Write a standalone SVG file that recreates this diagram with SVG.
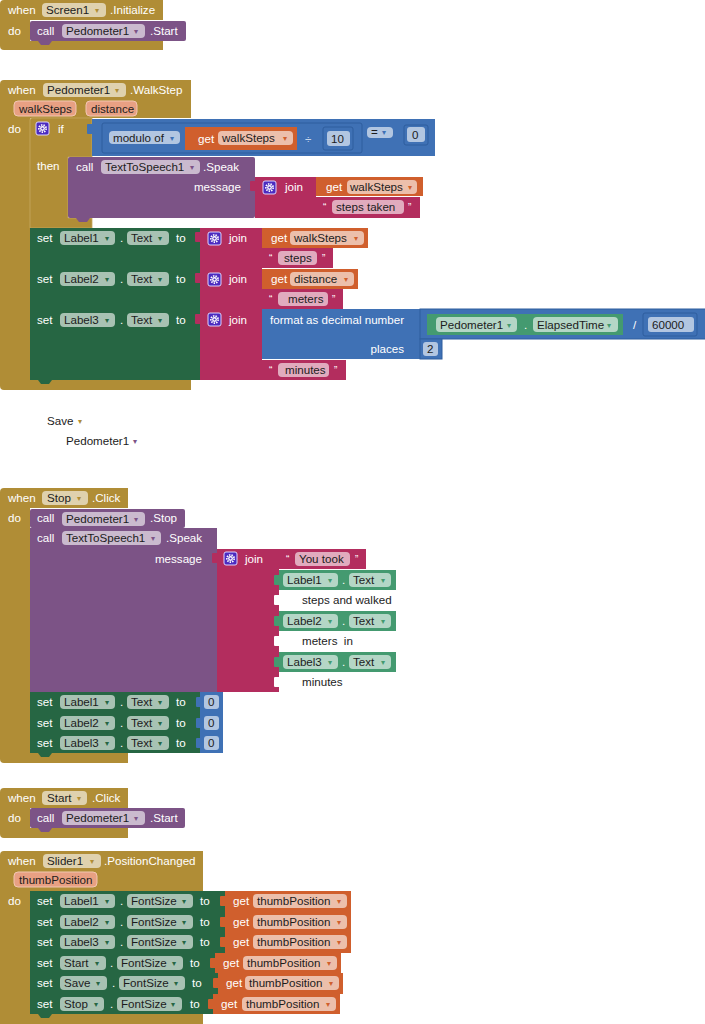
<svg xmlns="http://www.w3.org/2000/svg" xmlns:xlink="http://www.w3.org/1999/xlink" width="705" height="1024" viewBox="0 0 705 1024">
<style>
text{font-family:"Liberation Sans",Arial,sans-serif;font-size:11.6px}
.ev{fill:#B08D36}
.pr{fill:#7C5386}
.st{fill:#266643}
.gt{fill:#449A70}
.vr{fill:#D05F2D}
.tx{fill:#B32D5E}
.mt{fill:#3F71B5}
.ob{stroke:#2F5E9E;stroke-width:1}
.edge{stroke:#C7A860;stroke-width:.8}
.w{fill:#fff}
.d{fill:#1c1c1c}
.f{fill:#fff;fill-opacity:.6}
.a{font-family:"DejaVu Sans",sans-serif;font-size:8px}
.ag{fill:#B08D36}.ap{fill:#7C5386}.as{fill:#266643}.agt{fill:#449A70}.av{fill:#D05F2D}.am{fill:#3F71B5}
.q{fill:#fff;font-size:10px}
.prm{fill:#E8A083;stroke:#F2C6B2;stroke-width:1}
.tab{fill:#fff}
</style>
<defs>
<g id="gear">
<rect x="0" y="0" width="13" height="13" rx="2" fill="#4B2BC0" stroke="#DCD3FF" stroke-width="1"/>
<circle cx="6.5" cy="6.5" r="3.6" fill="none" stroke="#fff" stroke-width="1.8" stroke-dasharray="1.4 1.1"/>
<circle cx="6.5" cy="6.5" r="2.4" fill="#fff"/>
<circle cx="6.5" cy="6.5" r="1.1" fill="#4B2BC0"/>
</g>
<path id="bump" d="M8,0 H22 L19,4 H11 Z"/>
</defs>
<rect x="0" y="0" width="705" height="1024" fill="#fff"/>
<g id="connectors"/>

<!-- Screen1.Initialize -->
<g id="screen1-initialize">
<path class="ev" d="M0,4 Q0,0 4,0 H163 V20 H30 V41 H163 V50 H4 Q0,50 0,46 Z"/>
<text class="w" x="8" y="14">when</text>
<rect class="f" x="42" y="3" width="64" height="14" rx="4"/>
<text class="d" x="46" y="14">Screen1</text>
<text class="a ag" x="95" y="13">▾</text>
<text class="w" x="110" y="14">.Initialize</text>
<text class="w" x="8" y="35">do</text>
<g id="call-pedometer-start-1">
<rect class="pr" x="30" y="21" width="156" height="20" rx="2"/>
<use xlink:href="#bump" class="pr" x="30" y="41"/>
<text class="w" x="37" y="35">call</text>
<rect class="f" x="62" y="24" width="83" height="14" rx="4"/>
<text class="d" x="66" y="35">Pedometer1</text>
<text class="a ap" x="134" y="34">▾</text>
<text class="w" x="150" y="35">.Start</text>
</g>
</g>

<!-- Pedometer1.WalkStep -->
<g id="pedometer-walkstep">
<path class="ev" d="M0,84 Q0,80 4,80 H191 V118 H30 V380 H191 V390 H4 Q0,390 0,386 Z"/>
<text class="w" x="8" y="94">when</text>
<rect class="f" x="43" y="83" width="83" height="14" rx="4"/>
<text class="d" x="47" y="94">Pedometer1</text>
<text class="a ag" x="115" y="93">▾</text>
<text class="w" x="130" y="94">.WalkStep</text>
<rect class="prm" x="14" y="101" width="62" height="15" rx="4"/>
<text class="d" x="19" y="113">walkSteps</text>
<rect class="prm" x="86" y="101" width="51" height="15" rx="4"/>
<text class="d" x="91" y="113">distance</text>
<text class="w" x="8" y="133">do</text>

<g id="if-block">
<path class="ev edge" d="M30,120 Q30,118 32,118 H92 V157 H68 V218 H92 V228 H30 Z"/>
<use xlink:href="#gear" x="36" y="122"/>
<text class="w" x="58" y="133">if</text>
<text class="w" x="37" y="170">then</text>
</g>

<g id="if-condition">
<rect class="mt" x="87" y="124" width="6" height="10" rx="1"/>
<rect class="mt" x="92" y="119" width="343" height="37"/>
<rect class="mt ob" x="102" y="123" width="260" height="30" rx="2"/>
<rect class="f" x="109" y="131" width="71" height="13" rx="4"/>
<text class="d" x="113" y="142">modulo of</text>
<text class="a am" x="170" y="141">▾</text>
<g id="get-walksteps-a">
<rect class="vr" x="185" y="127" width="112" height="23"/>
<text class="w" x="198" y="143">get</text>
<rect class="f" x="218" y="131" width="75" height="14" rx="4"/>
<text class="d" x="222" y="142">walkSteps</text>
<text class="a av" x="283" y="141">▾</text>
</g>
<text x="305" y="143" fill="#C8D6EA">÷</text>
<rect class="mt ob" x="323" y="127" width="30" height="23" rx="2"/>
<rect class="f" x="327" y="131" width="23" height="15" rx="3"/>
<text class="d" x="331" y="143">10</text>
<rect class="f" x="367" y="127" width="26" height="11" rx="4"/>
<text class="d" x="371" y="136">=</text>
<text class="a am" x="382" y="135">▾</text>
<rect class="mt ob" x="404" y="125" width="24" height="20" rx="2"/>
<rect class="f" x="407" y="127" width="18" height="15" rx="3"/>
<text class="d" x="412" y="139">0</text>
</g>

<g id="speak-1">
<rect class="pr" x="68" y="157" width="187" height="61" rx="2"/>
<use xlink:href="#bump" class="pr" x="68" y="218"/>
<text class="w" x="76" y="171">call</text>
<rect class="f" x="101" y="160" width="99" height="14" rx="4"/>
<text class="d" x="105" y="171">TextToSpeech1</text>
<text class="a ap" x="190" y="170">▾</text>
<text class="w" x="203" y="171">.Speak</text>
<text class="w" x="241" y="191" text-anchor="end">message</text>
</g>
<g id="join-1">
<rect class="tx" x="250" y="181" width="6" height="10" rx="1"/>
<rect class="tx" x="255" y="177" width="61" height="41"/>
<use xlink:href="#gear" x="263" y="181"/>
<text class="w" x="285" y="191">join</text>
<rect class="vr" x="316" y="177" width="107" height="19"/>
<text class="w" x="326" y="191">get</text>
<rect class="f" x="347" y="180" width="70" height="14" rx="4"/>
<text class="d" x="350" y="191">walkSteps</text>
<text class="a av" x="408" y="190">▾</text>
<rect class="tx" x="316" y="197" width="104" height="21"/>
<text class="q" x="323" y="211">“</text>
<rect class="f" x="332" y="200" width="72" height="14" rx="4"/>
<text class="d" x="336" y="211">steps taken</text>
<text class="q" x="408" y="211">”</text>
</g>

<g id="set-label1-text-a">
<rect class="st" x="30" y="228" width="170" height="40"/>
<text class="w" x="37" y="242">set</text>
<rect class="f" x="60" y="231" width="55" height="14" rx="4"/>
<text class="d" x="64" y="242">Label1</text>
<text class="a as" x="105" y="241">▾</text>
<text class="w" x="120" y="242">.</text>
<rect class="f" x="127" y="231" width="42" height="14" rx="4"/>
<text class="d" x="131" y="242">Text</text>
<text class="a as" x="158" y="241">▾</text>
<text class="w" x="176" y="242">to</text>
<rect class="tx" x="195" y="232" width="6" height="10" rx="1"/>
<rect class="tx" x="200" y="228" width="62" height="40"/>
<use xlink:href="#gear" x="208" y="232"/>
<text class="w" x="229" y="242">join</text>
<rect class="vr" x="262" y="228" width="106" height="20"/>
<text class="w" x="271" y="242">get</text>
<rect class="f" x="290" y="231" width="74" height="14" rx="4"/>
<text class="d" x="294" y="242">walkSteps</text>
<text class="a av" x="354" y="241">▾</text>
<rect class="tx" x="262" y="248" width="71" height="20"/>
<text class="q" x="269" y="262">“</text>
<rect class="f" x="278" y="251" width="39" height="14" rx="4"/>
<text class="d" x="284" y="262">steps</text>
<text class="q" x="322" y="262">”</text>
</g>

<g id="set-label2-text-a">
<rect class="st" x="30" y="268" width="170" height="41"/>
<text class="w" x="37" y="283">set</text>
<rect class="f" x="60" y="272" width="55" height="14" rx="4"/>
<text class="d" x="64" y="283">Label2</text>
<text class="a as" x="105" y="282">▾</text>
<text class="w" x="120" y="283">.</text>
<rect class="f" x="127" y="272" width="42" height="14" rx="4"/>
<text class="d" x="131" y="283">Text</text>
<text class="a as" x="158" y="282">▾</text>
<text class="w" x="176" y="283">to</text>
<rect class="tx" x="195" y="273" width="6" height="10" rx="1"/>
<rect class="tx" x="200" y="268" width="62" height="41"/>
<use xlink:href="#gear" x="208" y="273"/>
<text class="w" x="229" y="283">join</text>
<rect class="vr" x="262" y="269" width="96" height="20"/>
<text class="w" x="271" y="283">get</text>
<rect class="f" x="290" y="272" width="64" height="14" rx="4"/>
<text class="d" x="294" y="283">distance</text>
<text class="a av" x="344" y="282">▾</text>
<rect class="tx" x="262" y="289" width="81" height="20"/>
<text class="q" x="269" y="303">“</text>
<rect class="f" x="278" y="292" width="50" height="14" rx="4"/>
<text class="d" x="288" y="303">meters</text>
<text class="q" x="332" y="303">”</text>
</g>

<g id="set-label3-text-a">
<rect class="st" x="30" y="309" width="170" height="71"/>
<use xlink:href="#bump" class="st" x="30" y="380"/>
<text class="w" x="37" y="324">set</text>
<rect class="f" x="60" y="313" width="55" height="14" rx="4"/>
<text class="d" x="64" y="324">Label3</text>
<text class="a as" x="105" y="323">▾</text>
<text class="w" x="120" y="324">.</text>
<rect class="f" x="127" y="313" width="42" height="14" rx="4"/>
<text class="d" x="131" y="324">Text</text>
<text class="a as" x="158" y="323">▾</text>
<text class="w" x="176" y="324">to</text>
<rect class="tx" x="195" y="314" width="6" height="10" rx="1"/>
<rect class="tx" x="200" y="309" width="62" height="71"/>
<use xlink:href="#gear" x="208" y="313"/>
<text class="w" x="229" y="324">join</text>
<g id="format-decimal">
<rect class="mt" x="262" y="309" width="158" height="50"/>
<text class="w" x="270" y="324">format as decimal number</text>
<text class="w" x="404" y="353" text-anchor="end">places</text>
<rect class="mt ob" x="420" y="309" width="290" height="30"/>
<rect class="gt" x="427" y="314" width="196" height="21"/>
<rect class="f" x="436" y="317" width="81" height="15" rx="4"/>
<text class="d" x="440" y="329">Pedometer1</text>
<text class="a agt" x="507" y="328">▾</text>
<text class="w" x="524" y="329">.</text>
<rect class="f" x="533" y="317" width="85" height="15" rx="4"/>
<text class="d" x="537" y="329">ElapsedTime</text>
<text class="a agt" x="607" y="328">▾</text>
<text class="w" x="633" y="329">/</text>
<rect class="mt ob" x="643" y="313" width="54" height="23" rx="2"/>
<rect class="f" x="648" y="317" width="46" height="15" rx="3"/>
<text class="d" x="652" y="329">60000</text>
<rect class="mt ob" x="420" y="339" width="22" height="20"/>
<rect class="f" x="423" y="342" width="15" height="14" rx="3"/>
<text class="d" x="427" y="353">2</text>
</g>
<rect class="tx" x="262" y="360" width="84" height="20"/>
<text class="q" x="269" y="374">“</text>
<rect class="f" x="278" y="363" width="51" height="14" rx="4"/>
<text class="d" x="285" y="374">minutes</text>
<text class="q" x="334" y="374">”</text>
</g>
</g>

<!-- ghost -->
<g id="save-ghost">
<text class="d" x="47" y="425">Save</text>
<text class="a ag" x="78" y="424">▾</text>
<text class="d" x="66" y="445">Pedometer1</text>
<text class="a ap" x="133" y="444">▾</text>
</g>

<!-- Stop.Click -->
<g id="stop-click">
<path class="ev" d="M0,492 Q0,488 4,488 H128 V508 H30 V753 H128 V763 H4 Q0,763 0,759 Z"/>
<text class="w" x="8" y="502">when</text>
<rect class="f" x="42" y="491" width="46" height="14" rx="4"/>
<text class="d" x="47" y="502">Stop</text>
<text class="a ag" x="77" y="501">▾</text>
<text class="w" x="92" y="502">.Click</text>
<text class="w" x="8" y="522">do</text>
<g id="call-pedometer-stop">
<rect class="pr" x="30" y="509" width="155" height="19" rx="2"/>
<text class="w" x="37" y="522">call</text>
<rect class="f" x="62" y="512" width="83" height="14" rx="4"/>
<text class="d" x="66" y="523">Pedometer1</text>
<text class="a ap" x="134" y="522">▾</text>
<text class="w" x="150" y="522">.Stop</text>
</g>
<g id="speak-2">
<rect class="pr" x="30" y="528" width="187" height="164"/>
<text class="w" x="37" y="542">call</text>
<rect class="f" x="62" y="531" width="99" height="14" rx="4"/>
<text class="d" x="66" y="542">TextToSpeech1</text>
<text class="a ap" x="151" y="541">▾</text>
<text class="w" x="166" y="542">.Speak</text>
<text class="w" x="202" y="563" text-anchor="end">message</text>
</g>
<g id="join-2">
<rect class="tx" x="212" y="553" width="6" height="10" rx="1"/>
<rect class="tx" x="217" y="549" width="62" height="143"/>
<use xlink:href="#gear" x="224" y="552"/>
<text class="w" x="245" y="563">join</text>
<rect class="tx" x="279" y="549" width="87" height="20"/>
<text class="q" x="286" y="563">“</text>
<rect class="f" x="295" y="552" width="55" height="14" rx="4"/>
<text class="d" x="299" y="563">You took</text>
<text class="q" x="355" y="563">”</text>
<rect class="gt" x="274" y="575" width="6" height="10" rx="1"/>
<rect class="gt" x="279" y="570" width="117" height="20"/>
<rect class="f" x="283" y="573" width="55" height="14" rx="4"/>
<text class="d" x="287" y="584">Label1</text>
<text class="a agt" x="328" y="583">▾</text>
<text class="w" x="342" y="584">.</text>
<rect class="f" x="349" y="573" width="42" height="14" rx="4"/>
<text class="d" x="353" y="584">Text</text>
<text class="a agt" x="381" y="583">▾</text>
<rect class="tab" x="274" y="595" width="6" height="10" rx="1"/>
<text class="d" x="302" y="604">steps and walked</text>
<rect class="gt" x="274" y="616" width="6" height="10" rx="1"/>
<rect class="gt" x="279" y="611" width="117" height="20"/>
<rect class="f" x="283" y="614" width="55" height="14" rx="4"/>
<text class="d" x="287" y="625">Label2</text>
<text class="a agt" x="328" y="624">▾</text>
<text class="w" x="342" y="625">.</text>
<rect class="f" x="349" y="614" width="42" height="14" rx="4"/>
<text class="d" x="353" y="625">Text</text>
<text class="a agt" x="381" y="624">▾</text>
<rect class="tab" x="274" y="636" width="6" height="10" rx="1"/>
<text class="d" x="302" y="645" xml:space="preserve">meters  in</text>
<rect class="gt" x="274" y="657" width="6" height="10" rx="1"/>
<rect class="gt" x="279" y="652" width="117" height="20"/>
<rect class="f" x="283" y="655" width="55" height="14" rx="4"/>
<text class="d" x="287" y="666">Label3</text>
<text class="a agt" x="328" y="665">▾</text>
<text class="w" x="342" y="666">.</text>
<rect class="f" x="349" y="655" width="42" height="14" rx="4"/>
<text class="d" x="353" y="666">Text</text>
<text class="a agt" x="381" y="665">▾</text>
<rect class="tab" x="274" y="677" width="6" height="10" rx="1"/>
<text class="d" x="302" y="686">minutes</text>
</g>
<g id="set-label1-text-0">
<rect class="st" x="30" y="692" width="170" height="20"/>
<text class="w" x="37" y="706">set</text>
<rect class="f" x="60" y="695" width="55" height="14" rx="4"/>
<text class="d" x="64" y="706">Label1</text>
<text class="a as" x="105" y="705">▾</text>
<text class="w" x="120" y="706">.</text>
<rect class="f" x="127" y="695" width="42" height="14" rx="4"/>
<text class="d" x="131" y="706">Text</text>
<text class="a as" x="158" y="705">▾</text>
<text class="w" x="176" y="706">to</text>
<rect class="mt" x="196" y="697" width="6" height="10" rx="1"/>
<rect class="mt" x="200" y="692" width="23" height="20"/>
<rect class="f" x="204" y="695" width="15" height="14" rx="3"/>
<text class="d" x="208" y="706">0</text>
</g>
<g id="set-label2-text-0">
<rect class="st" x="30" y="712" width="170" height="21"/>
<text class="w" x="37" y="727">set</text>
<rect class="f" x="60" y="716" width="55" height="14" rx="4"/>
<text class="d" x="64" y="727">Label2</text>
<text class="a as" x="105" y="726">▾</text>
<text class="w" x="120" y="727">.</text>
<rect class="f" x="127" y="716" width="42" height="14" rx="4"/>
<text class="d" x="131" y="727">Text</text>
<text class="a as" x="158" y="726">▾</text>
<text class="w" x="176" y="727">to</text>
<rect class="mt" x="196" y="718" width="6" height="10" rx="1"/>
<rect class="mt" x="200" y="712" width="23" height="21"/>
<rect class="f" x="204" y="716" width="15" height="14" rx="3"/>
<text class="d" x="208" y="727">0</text>
</g>
<g id="set-label3-text-0">
<rect class="st" x="30" y="733" width="170" height="20"/>
<use xlink:href="#bump" class="st" x="30" y="753"/>
<text class="w" x="37" y="747">set</text>
<rect class="f" x="60" y="736" width="55" height="14" rx="4"/>
<text class="d" x="64" y="747">Label3</text>
<text class="a as" x="105" y="746">▾</text>
<text class="w" x="120" y="747">.</text>
<rect class="f" x="127" y="736" width="42" height="14" rx="4"/>
<text class="d" x="131" y="747">Text</text>
<text class="a as" x="158" y="746">▾</text>
<text class="w" x="176" y="747">to</text>
<rect class="mt" x="196" y="738" width="6" height="10" rx="1"/>
<rect class="mt" x="200" y="733" width="23" height="20"/>
<rect class="f" x="204" y="736" width="15" height="14" rx="3"/>
<text class="d" x="208" y="747">0</text>
</g>
</g>

<!-- Start.Click -->
<g id="start-click">
<path class="ev" d="M0,792 Q0,788 4,788 H128 V808 H30 V828 H128 V838 H4 Q0,838 0,834 Z"/>
<text class="w" x="8" y="802">when</text>
<rect class="f" x="42" y="791" width="45" height="14" rx="4"/>
<text class="d" x="47" y="802">Start</text>
<text class="a ag" x="77" y="801">▾</text>
<text class="w" x="92" y="802">.Click</text>
<text class="w" x="8" y="822">do</text>
<g id="call-pedometer-start-2">
<rect class="pr" x="30" y="808" width="155" height="20" rx="2"/>
<use xlink:href="#bump" class="pr" x="30" y="828"/>
<text class="w" x="37" y="822">call</text>
<rect class="f" x="62" y="811" width="83" height="14" rx="4"/>
<text class="d" x="66" y="822">Pedometer1</text>
<text class="a ap" x="134" y="821">▾</text>
<text class="w" x="150" y="822">.Start</text>
</g>
</g>

<!-- Slider1.PositionChanged -->
<g id="slider-position-changed">
<path class="ev" d="M0,855 Q0,851 4,851 H203 V891 H30 V1014 H203 V1024 H0 Z"/>
<text class="w" x="8" y="865">when</text>
<rect class="f" x="43" y="854" width="58" height="14" rx="4"/>
<text class="d" x="47" y="865">Slider1</text>
<text class="a ag" x="90" y="864">▾</text>
<text class="w" x="104" y="865">.PositionChanged</text>
<rect class="prm" x="14" y="872" width="83" height="15" rx="4"/>
<text class="d" x="19" y="884">thumbPosition</text>
<text class="w" x="8" y="905">do</text>

<g id="set-label1-fontsize">
<rect class="st" x="30" y="891" width="195" height="21"/>
<text class="w" x="37" y="905">set</text>
<rect class="f" x="60" y="894" width="55" height="14" rx="4"/>
<text class="d" x="64" y="905">Label1</text>
<text class="a as" x="105" y="904">▾</text>
<text class="w" x="120" y="905">.</text>
<rect class="f" x="127" y="894" width="66" height="14" rx="4"/>
<text class="d" x="131" y="905">FontSize</text>
<text class="a as" x="182" y="904">▾</text>
<text class="w" x="200" y="905">to</text>
<rect class="vr" x="220" y="896" width="6" height="10" rx="1"/>
<rect class="vr" x="225" y="891" width="126" height="21"/>
<text class="w" x="233" y="905">get</text>
<rect class="f" x="253" y="894" width="94" height="14" rx="4"/>
<text class="d" x="257" y="905">thumbPosition</text>
<text class="a av" x="337" y="904">▾</text>
</g>
<g id="set-label2-fontsize">
<rect class="st" x="30" y="912" width="195" height="20"/>
<text class="w" x="37" y="926">set</text>
<rect class="f" x="60" y="915" width="55" height="14" rx="4"/>
<text class="d" x="64" y="926">Label2</text>
<text class="a as" x="105" y="925">▾</text>
<text class="w" x="120" y="926">.</text>
<rect class="f" x="127" y="915" width="66" height="14" rx="4"/>
<text class="d" x="131" y="926">FontSize</text>
<text class="a as" x="182" y="925">▾</text>
<text class="w" x="200" y="926">to</text>
<rect class="vr" x="220" y="917" width="6" height="10" rx="1"/>
<rect class="vr" x="225" y="912" width="126" height="20"/>
<text class="w" x="233" y="926">get</text>
<rect class="f" x="253" y="915" width="94" height="14" rx="4"/>
<text class="d" x="257" y="926">thumbPosition</text>
<text class="a av" x="337" y="925">▾</text>
</g>
<g id="set-label3-fontsize">
<rect class="st" x="30" y="932" width="195" height="21"/>
<text class="w" x="37" y="946">set</text>
<rect class="f" x="60" y="935" width="55" height="14" rx="4"/>
<text class="d" x="64" y="946">Label3</text>
<text class="a as" x="105" y="945">▾</text>
<text class="w" x="120" y="946">.</text>
<rect class="f" x="127" y="935" width="66" height="14" rx="4"/>
<text class="d" x="131" y="946">FontSize</text>
<text class="a as" x="182" y="945">▾</text>
<text class="w" x="200" y="946">to</text>
<rect class="vr" x="220" y="937" width="6" height="10" rx="1"/>
<rect class="vr" x="225" y="932" width="126" height="21"/>
<text class="w" x="233" y="946">get</text>
<rect class="f" x="253" y="935" width="94" height="14" rx="4"/>
<text class="d" x="257" y="946">thumbPosition</text>
<text class="a av" x="337" y="945">▾</text>
</g>
<g id="set-start-fontsize">
<rect class="st" x="30" y="953" width="185" height="20"/>
<text class="w" x="37" y="967">set</text>
<rect class="f" x="60" y="956" width="46" height="14" rx="4"/>
<text class="d" x="64" y="967">Start</text>
<text class="a as" x="95" y="966">▾</text>
<text class="w" x="110" y="967">.</text>
<rect class="f" x="117" y="956" width="66" height="14" rx="4"/>
<text class="d" x="121" y="967">FontSize</text>
<text class="a as" x="172" y="966">▾</text>
<text class="w" x="190" y="967">to</text>
<rect class="vr" x="210" y="958" width="6" height="10" rx="1"/>
<rect class="vr" x="215" y="953" width="126" height="20"/>
<text class="w" x="223" y="967">get</text>
<rect class="f" x="243" y="956" width="94" height="14" rx="4"/>
<text class="d" x="247" y="967">thumbPosition</text>
<text class="a av" x="327" y="966">▾</text>
</g>
<g id="set-save-fontsize">
<rect class="st" x="30" y="973" width="188" height="21"/>
<text class="w" x="37" y="987">set</text>
<rect class="f" x="60" y="976" width="47" height="14" rx="4"/>
<text class="d" x="64" y="987">Save</text>
<text class="a as" x="96" y="986">▾</text>
<text class="w" x="112" y="987">.</text>
<rect class="f" x="119" y="976" width="66" height="14" rx="4"/>
<text class="d" x="123" y="987">FontSize</text>
<text class="a as" x="174" y="986">▾</text>
<text class="w" x="192" y="987">to</text>
<rect class="vr" x="213" y="978" width="6" height="10" rx="1"/>
<rect class="vr" x="218" y="973" width="125" height="21"/>
<text class="w" x="226" y="987">get</text>
<rect class="f" x="245" y="976" width="94" height="14" rx="4"/>
<text class="d" x="249" y="987">thumbPosition</text>
<text class="a av" x="329" y="986">▾</text>
</g>
<g id="set-stop-fontsize">
<rect class="st" x="30" y="994" width="183" height="20"/>
<use xlink:href="#bump" class="st" x="30" y="1014"/>
<text class="w" x="37" y="1008">set</text>
<rect class="f" x="60" y="997" width="44" height="14" rx="4"/>
<text class="d" x="64" y="1008">Stop</text>
<text class="a as" x="94" y="1007">▾</text>
<text class="w" x="110" y="1008">.</text>
<rect class="f" x="117" y="997" width="65" height="14" rx="4"/>
<text class="d" x="121" y="1008">FontSize</text>
<text class="a as" x="171" y="1007">▾</text>
<text class="w" x="190" y="1008">to</text>
<rect class="vr" x="208" y="999" width="6" height="10" rx="1"/>
<rect class="vr" x="213" y="994" width="127" height="20"/>
<text class="w" x="221" y="1008">get</text>
<rect class="f" x="242" y="997" width="94" height="14" rx="4"/>
<text class="d" x="246" y="1008">thumbPosition</text>
<text class="a av" x="326" y="1007">▾</text>
</g>
</g>
</svg>
